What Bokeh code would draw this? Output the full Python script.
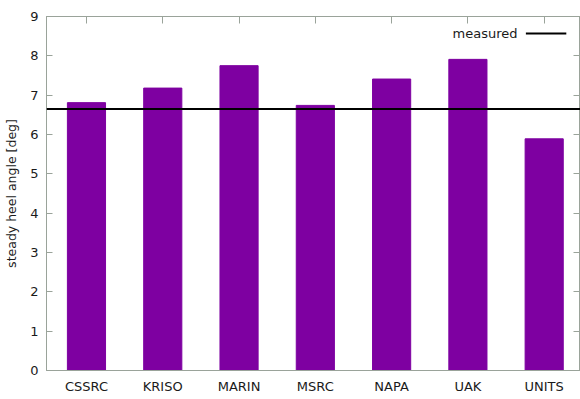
from bokeh.plotting import figure
from bokeh.models import Range1d, FixedTicker, LinearAxis, Label, Arrow, Span, ColumnDataSource
from bokeh.embed import file_html
from bokeh.resources import INLINE

# Steady heel angle predicted by each institute, compared with the measurement
institutes = ["CSSRC", "KRISO", "MARIN", "MSRC", "NAPA", "UAK", "UNITS"]
heel_deg = [6.81, 7.18, 7.75, 6.74, 7.41, 7.91, 5.89]
measured_deg = 6.65
y_ticks = [0, 1, 2, 3, 4, 5, 6, 7, 8, 9]

FONT = "DejaVu Sans"
BAR = "#7e00a1"
GRID = "#9aa39a"
TXT = "#1a1a1a"

pos = list(range(len(institutes)))
src = ColumnDataSource(dict(x=pos, top=heel_deg, name=institutes))

p = figure(width=580, height=399, output_backend="svg", toolbar_location=None,
           x_range=Range1d(-0.524, len(institutes) - 0.524), y_range=Range1d(0, 9),
           min_border_left=46, min_border_right=0, min_border_top=16, min_border_bottom=29)
p.background_fill_color = "white"
p.border_fill_color = "white"
p.outline_line_color = GRID
p.outline_line_width = 1
p.xgrid.visible = False
p.ygrid.visible = False

p.vbar(x="x", top="top", width=0.5, bottom=0, source=src, fill_color=BAR, line_color=BAR)

p.add_layout(Span(location=measured_deg, dimension="width", line_color="black", line_width=2))

# bottom axis: institute names
xa = p.xaxis[0]
xa.ticker = FixedTicker(ticks=pos)
xa.major_label_overrides = {i: n for i, n in enumerate(institutes)}
xa.major_tick_in = 0
xa.major_tick_out = 0
xa.minor_tick_line_color = None
xa.axis_line_color = GRID
xa.major_label_standoff = 8
xa.major_label_text_font = FONT
xa.major_label_text_font_size = "13px"
xa.major_label_text_color = TXT

# left axis
ya = p.yaxis[0]
ya.ticker = FixedTicker(ticks=y_ticks)
ya.major_tick_in = 6
ya.major_tick_out = 0
ya.major_tick_line_color = GRID
ya.minor_tick_line_color = None
ya.axis_line_color = GRID
ya.major_label_standoff = 8
ya.major_label_text_font = FONT
ya.major_label_text_font_size = "13px"
ya.major_label_text_color = TXT
ya.axis_label = "steady heel angle [deg]"
ya.axis_label_text_font = FONT
ya.axis_label_text_font_size = "12.5px"
ya.axis_label_text_font_style = "normal"
ya.axis_label_text_color = TXT
ya.axis_label_standoff = 8

# mirrored ticks on top and right (no labels)
top = LinearAxis(ticker=FixedTicker(ticks=pos), major_tick_in=7, major_tick_out=0,
                 major_tick_line_color=GRID, minor_tick_line_color=None,
                 axis_line_color=GRID, major_label_overrides={t: "" for t in pos},
                 major_label_standoff=0)
p.add_layout(top, "above")
right = LinearAxis(ticker=FixedTicker(ticks=y_ticks), major_tick_in=7, major_tick_out=0,
                   major_tick_line_color=GRID, minor_tick_line_color=None,
                   axis_line_color=GRID, major_label_overrides={t: "" for t in y_ticks},
                   major_label_standoff=0)
p.add_layout(right, "right")

# key for the measured line
p.add_layout(Label(x=5.65, y=8.57, text="measured", text_align="right", text_baseline="middle",
                   text_font=FONT, text_font_size="13px", text_color=TXT))
p.add_layout(Arrow(x_start=5.76, y_start=8.57, x_end=6.29, y_end=8.57, end=None,
                   line_color="black", line_width=2))

open("out.html", "w").write(file_html(p, INLINE))
